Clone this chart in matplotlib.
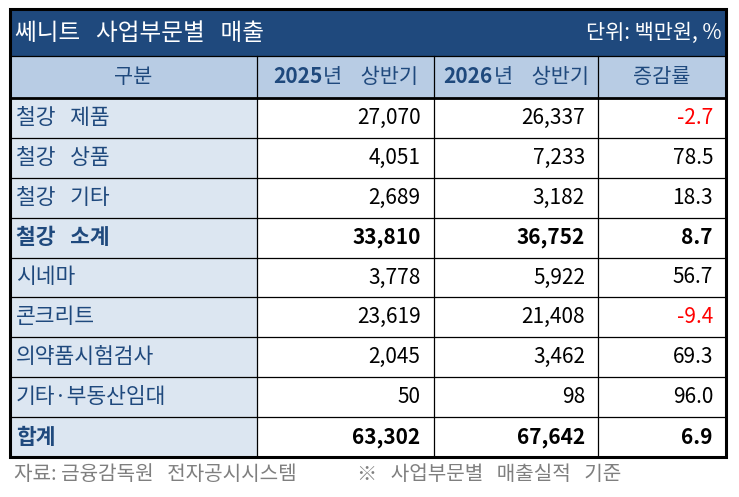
import re
import matplotlib.pyplot as plt
from matplotlib.patches import Rectangle

plt.rcParams['font.family'] = ['Noto Sans CJK KR', 'DejaVu Sans']

# data
title = '쎄니트 사업부문별 매출'
unit = '단위: 백만원, %'
col_head = ['구분', '2025년 상반기', '2026년 상반기', '증감률']
items = ['철강 제품', '철강 상품', '철강 기타', '철강 소계', '시네마',
         '콘크리트', '의약품시험검사', '기타·부동산임대', '합계']
h1_2025 = [27070, 4051, 2689, 33810, 3778, 23619, 2045, 50, 63302]
h1_2026 = [26337, 7233, 3182, 36752, 5922, 21408, 3462, 98, 67642]
change = [-2.7, 78.5, 18.3, 8.7, 56.7, -9.4, 69.3, 96.0, 6.9]
bold_rows = ['철강 소계', '합계']
source = '자료: 금융감독원 전자공시시스템'
note = '※ 사업부문별 매출실적 기준'


def wide(s, k=3):
    # the source font has much wider word spaces (not after a colon)
    return re.sub(r'(?<!:) ', ' ' * k, s)


# layout (pixels)
W, H = 739, 497
left, right = 10, 726
col_x = [left, 256.5, 433.5, 598, right]
top, title_bot, head_bot = 9, 56, 97.7
row_h = 39.95

navy = '#1F497D'
head_fill = '#B8CCE4'
first_fill = '#DCE6F1'
fs = 15

fig = plt.figure(figsize=(W / 100, H / 100), dpi=100)
ax = fig.add_axes([0, 0, 1, 1])
ax.set_xlim(0, W)
ax.set_ylim(H, 0)
ax.axis('off')

n = len(items)
bottom = head_bot + n * row_h

# fills
ax.add_patch(Rectangle((left, top), right - left, title_bot - top, color=navy, lw=0))
ax.add_patch(Rectangle((left, title_bot), right - left, head_bot - title_bot, color=head_fill, lw=0))
ax.add_patch(Rectangle((left, head_bot), col_x[1] - left, bottom - head_bot, color=first_fill, lw=0))

# grid lines
for i in range(1, n):
    y = head_bot + i * row_h
    ax.plot([left, right], [y, y], color='black', lw=0.9)
ax.plot([left, right], [title_bot, title_bot], color='black', lw=0.9)
ax.plot([left, right], [head_bot, head_bot], color='black', lw=2.0)
for x in col_x[1:-1]:
    ax.plot([x, x], [title_bot, bottom], color='black', lw=0.9)
ax.add_patch(Rectangle((left, top), right - left, bottom - top, fill=False,
                       ec='black', lw=2.2))

# title row
ty = (top + title_bot) / 2
ax.text(15, ty + 1, wide(title, 3), color='white', fontsize=17, va='center', ha='left')
ax.text(722, ty, unit, color='white', fontsize=fs, va='center', ha='right')

# header row
hy = (title_bot + head_bot) / 2
renderer = fig.canvas.get_renderer()
for j, lab in enumerate(col_head):
    cx = (col_x[j] + col_x[j + 1]) / 2
    if lab[:4].isdigit():
        t1 = ax.text(0, hy, lab[:4], color=navy, fontsize=fs, fontweight='bold',
                     va='center', ha='left')
        t2 = ax.text(0, hy, wide(lab[4:], 4), color=navy, fontsize=fs, va='center', ha='left')
        w1 = t1.get_window_extent(renderer).width
        w2 = t2.get_window_extent(renderer).width
        x0 = cx - (w1 + w2) / 2
        t1.set_x(x0)
        t2.set_x(x0 + w1 + 1)
    else:
        ax.text(cx, hy, lab, color=navy, fontsize=fs, va='center', ha='center')

# body rows
for i, name in enumerate(items):
    y = head_bot + (i + 0.5) * row_h
    wt = 'bold' if name in bold_rows else 'normal'
    ax.text(16, y, wide(name, 3), color=navy, fontsize=15.5, fontweight=wt,
            va='center', ha='left')
    ax.text(col_x[2] - 13, y, f'{h1_2025[i]:,}', color='black', fontsize=fs,
            fontweight=wt, va='center', ha='right')
    ax.text(col_x[3] - 13, y, f'{h1_2026[i]:,}', color='black', fontsize=fs,
            fontweight=wt, va='center', ha='right')
    c = 'red' if change[i] < 0 else 'black'
    ax.text(col_x[4] - 13, y, f'{change[i]:.1f}', color=c, fontsize=fs,
            fontweight=wt, va='center', ha='right')

# footer
fy = bottom + 17
ax.text(14, fy, wide(source, 3), color='#7F7F7F', fontsize=14.5, va='center', ha='left')
ax.text(357, fy, wide(note, 3), color='#7F7F7F', fontsize=14.5, va='center', ha='left')

fig.savefig('out.png', dpi=100)
